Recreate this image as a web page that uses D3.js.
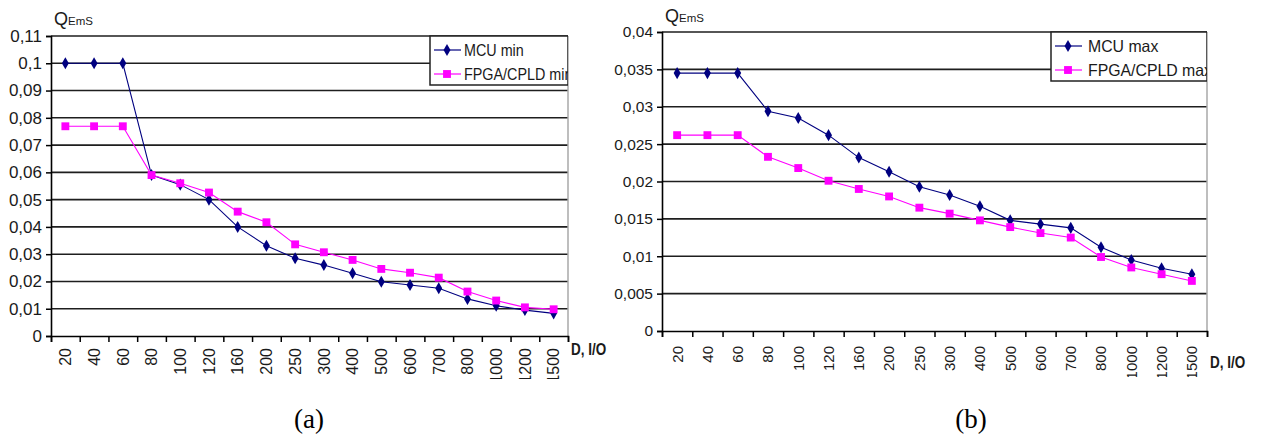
<!DOCTYPE html>
<html>
<head>
<meta charset="utf-8">
<script src="https://cdn.jsdelivr.net/npm/d3@7"></script>
<style>
  body { margin: 0; background: #fff; }
  svg { display: block; font-family: "Liberation Sans", Arial, sans-serif; }
</style>
</head>
<body>
<div id="chart"></div>
<script>
// categories (D, I/O)
var categories = ["20", "40", "60", "80", "100", "120", "160", "200", "250", "300",
    "400", "500", "600", "700", "800", "1000", "1200", "1500"];

// chart (a) values
var mcuMin = [0.1, 0.1, 0.1, 0.059, 0.0555, 0.050, 0.040, 0.0331, 0.0285, 0.026,
    0.023, 0.0199, 0.0187, 0.0175, 0.0136, 0.0111, 0.0095, 0.0083];
var fpgaMin = [0.0769, 0.0769, 0.0769, 0.059, 0.056, 0.0526, 0.0456, 0.0417, 0.0336, 0.0307,
    0.0279, 0.0246, 0.0232, 0.0214, 0.0163, 0.0130, 0.0105, 0.0098];

// chart (b) values
var mcuMax = [0.0345, 0.0345, 0.0345, 0.0294, 0.0285, 0.0262, 0.0232, 0.0213, 0.0193, 0.0182,
    0.0167, 0.0148, 0.0143, 0.0138, 0.0112, 0.0095, 0.0084, 0.0076];
var fpgaMax = [0.0262, 0.0262, 0.0262, 0.0233, 0.0218, 0.0201, 0.0190, 0.0180, 0.0165, 0.0157,
    0.0148, 0.0139, 0.0131, 0.0125, 0.0099, 0.0085, 0.0076, 0.0067];

// y ticks
var yTicksA = [0, 0.01, 0.02, 0.03, 0.04, 0.05, 0.06, 0.07, 0.08, 0.09, 0.1, 0.11];
var yTicksB = [0, 0.005, 0.01, 0.015, 0.02, 0.025, 0.03, 0.035, 0.04];

var seriesNamesA = ["MCU min", "FPGA/CPLD min"];
var seriesNamesB = ["MCU max", "FPGA/CPLD max"];

var NAVY = "#000080";
var MAGENTA = "#ff00ff";
var TEXT = "#1a1a1a";

var fmt = d3.formatLocale({decimal: ",", thousands: " ", grouping: [3], currency: ["", ""]}).format("~g");

var svg = d3.select("#chart")
    .append("svg")
    .attr("width", 1268)
    .attr("height", 437);

function drawChart(opt) {
    var g = svg.append("g");

    var xScale = d3.scaleBand()
        .domain(categories)
        .range([opt.left, opt.right])
        .padding(0);

    var edgeScale = d3.scaleLinear()
        .domain([0, categories.length])
        .range([opt.left, opt.right]);

    var yScale = d3.scaleLinear()
        .domain([0, opt.yMax])
        .range([opt.bottom, opt.top]);

    // gridlines
    g.append("g")
        .selectAll("line")
        .data(opt.yTicks.filter(d => d > 0))
        .enter()
        .append("line")
        .attr("x1", opt.left)
        .attr("x2", opt.right)
        .attr("y1", d => yScale(d))
        .attr("y2", d => yScale(d))
        .attr("stroke", "#1e1e1e")
        .attr("stroke-width", 1.6);

    // right border
    g.append("line")
        .attr("x1", opt.right).attr("x2", opt.right)
        .attr("y1", opt.top).attr("y2", opt.bottom)
        .attr("stroke", "#a8a8a8")
        .attr("stroke-width", 1.5);

    // y axis
    var leftAxis = d3.axisLeft(yScale)
        .tickValues(opt.yTicks)
        .tickFormat(fmt)
        .tickSize(5)
        .tickPadding(4);

    var yAxisG = g.append("g")
        .attr("transform", `translate(${opt.left},0)`)
        .call(leftAxis);
    yAxisG.select(".domain").attr("stroke", "#000").attr("stroke-width", 1.6);
    yAxisG.selectAll(".tick line").attr("stroke", "#000").attr("stroke-width", 1.5);
    yAxisG.selectAll(".tick text")
        .attr("font-size", opt.yFont)
        .attr("fill", TEXT)
        .style("font-family", "Liberation Sans, Arial, sans-serif");

    // x axis ticks at category edges
    var edgeAxis = d3.axisBottom(edgeScale)
        .tickValues(d3.range(categories.length + 1))
        .tickFormat("")
        .tickSize(6);
    var xAxisG = g.append("g")
        .attr("transform", `translate(0,${opt.bottom})`)
        .call(edgeAxis);
    xAxisG.select(".domain").attr("stroke", "#000").attr("stroke-width", 1.6);
    xAxisG.selectAll(".tick line").attr("stroke", "#000").attr("stroke-width", 1.5);

    // x labels, rotated, clipped at the bottom like the original
    var clipId = "clip-x-" + opt.id;
    svg.append("clipPath").attr("id", clipId)
        .append("rect")
        .attr("x", opt.left - 20)
        .attr("y", 0)
        .attr("width", opt.right - opt.left + 40)
        .attr("height", opt.labelClip - opt.bottom);

    var labelAxis = d3.axisBottom(xScale)
        .tickSize(0)
        .tickPadding(0);
    var labelG = g.append("g")
        .attr("transform", `translate(0,${opt.bottom})`)
        .attr("clip-path", `url(#${clipId})`)
        .call(labelAxis);
    labelG.select(".domain").remove();
    labelG.selectAll(".tick text")
        .attr("transform", "rotate(-90)")
        .attr("x", -opt.labelTop)
        .attr("y", 0)
        .attr("dy", "0.36em")
        .attr("text-anchor", "end")
        .attr("font-size", opt.xFont)
        .attr("fill", TEXT)
        .style("font-family", "Liberation Sans, Arial, sans-serif");

    // lines + markers
    var line = d3.line()
        .x((d, i) => xScale(categories[i]) + xScale.bandwidth() / 2)
        .y(d => yScale(d));

    var series = [
        {values: opt.mcu, color: NAVY, shape: d3.symbolDiamond, size: 42},
        {values: opt.fpga, color: MAGENTA, shape: d3.symbolSquare, size: 62}
    ];

    series.forEach(function(s) {
        g.append("path")
            .datum(s.values)
            .attr("d", line)
            .attr("fill", "none")
            .attr("stroke", s.color)
            .attr("stroke-width", 1.1);
    });

    series.forEach(function(s) {
        g.append("g")
            .selectAll("path")
            .data(s.values)
            .enter()
            .append("path")
            .attr("d", d3.symbol().type(s.shape).size(s.size))
            .attr("transform", (d, i) =>
                `translate(${xScale(categories[i]) + xScale.bandwidth() / 2},${yScale(d)})`)
            .attr("fill", s.color);
    });

    // legend
    var legClip = "clip-leg-" + opt.id;
    svg.append("clipPath").attr("id", legClip)
        .append("rect")
        .attr("x", opt.legX - 2)
        .attr("y", opt.legY - 2)
        .attr("width", opt.right - opt.legX + 2)
        .attr("height", 60);

    var legend = g.append("g").attr("clip-path", `url(#${legClip})`);
    legend.append("rect")
        .attr("x", opt.legX)
        .attr("y", opt.legY)
        .attr("width", opt.right - opt.legX)
        .attr("height", 49)
        .attr("fill", "#fff")
        .attr("stroke", "#222")
        .attr("stroke-width", 1.5);

    series.forEach(function(s, i) {
        var ly = opt.legY + 14 + i * 24;
        legend.append("line")
            .attr("x1", opt.legX + 4)
            .attr("x2", opt.legX + 31)
            .attr("y1", ly).attr("y2", ly)
            .attr("stroke", s.color)
            .attr("stroke-width", 1.2);
        legend.append("path")
            .attr("d", d3.symbol().type(s.shape).size(s.size))
            .attr("transform", `translate(${opt.legX + 17},${ly})`)
            .attr("fill", s.color);
        legend.append("text")
            .attr("transform", `translate(${opt.legX + opt.legText},${ly}) scale(${opt.legScale},1)`)
            .attr("dy", "0.36em")
            .attr("font-size", 16.5)
            .attr("fill", TEXT)
            .text(opt.names[i]);
    });

    // y title Q_EmS
    var qt = g.append("text")
        .attr("x", opt.left + 3)
        .attr("y", opt.top - opt.qOffset)
        .attr("fill", TEXT);
    qt.append("tspan").attr("font-size", 18).text("Q");
    qt.append("tspan").attr("font-size", 11.5).text("EmS");

    // x title
    g.append("text")
        .attr("transform", `translate(${opt.right + 3},${opt.xTitleY}) scale(0.9,1.12)`)
        .attr("font-size", 15)
        .attr("font-weight", "bold")
        .attr("fill", TEXT)
        .text("D, I/O");

    // caption
    g.append("text")
        .attr("x", opt.capX)
        .attr("y", 428)
        .attr("text-anchor", "middle")
        .attr("font-size", 27)
        .style("font-family", "Liberation Serif, Times New Roman, serif")
        .attr("fill", "#000")
        .text(opt.caption);
}

drawChart({
    id: "a", left: 51, right: 568, top: 36, bottom: 336,
    yMax: 0.11, yTicks: yTicksA, mcu: mcuMin, fpga: fpgaMin, names: seriesNamesA,
    yFont: 17, xFont: 16, labelTop: 12, labelClip: 379, qOffset: 11,
    legX: 430, legY: 36, legText: 34, legScale: 0.87,
    xTitleY: 355, capX: 309, caption: "(a)"
});

drawChart({
    id: "b", left: 662, right: 1207, top: 32, bottom: 331,
    yMax: 0.04, yTicks: yTicksB, mcu: mcuMax, fpga: fpgaMax, names: seriesNamesB,
    yFont: 15.5, xFont: 15, labelTop: 15, labelClip: 377, qOffset: 10,
    legX: 1051, legY: 32, legText: 37, legScale: 0.96,
    xTitleY: 368, capX: 971, caption: "(b)"
});
</script>
</body>
</html>
